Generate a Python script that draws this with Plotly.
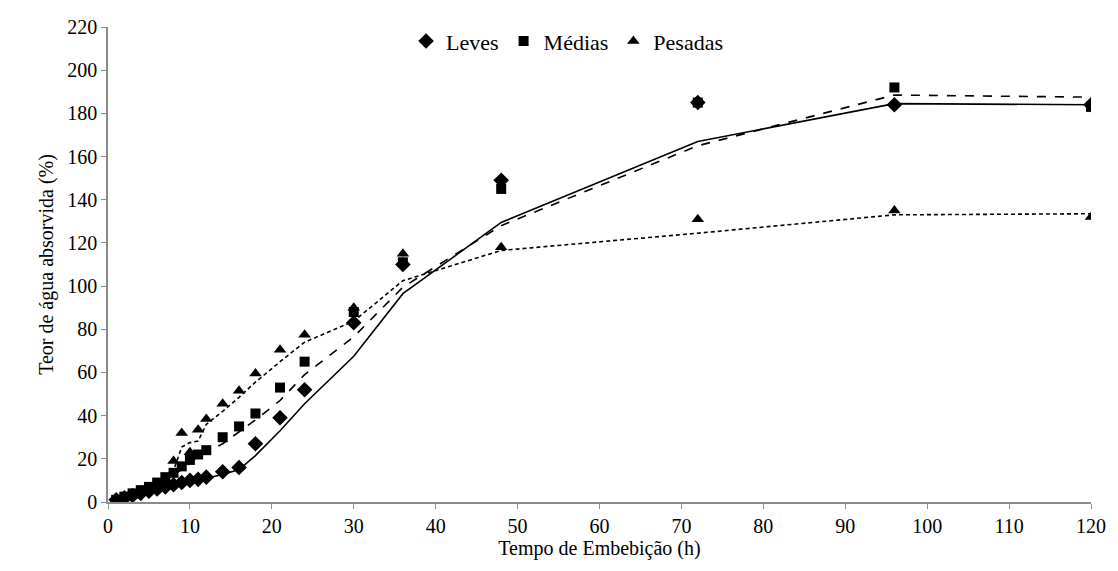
import plotly.graph_objects as go

# Tempo de embebição (h)
tempo = [1, 2, 3, 4, 5, 6, 7, 8, 9, 10, 11, 12, 14, 16, 18, 21, 24, 30, 36, 48, 72, 96, 120]

# Teor de água absorvida (%) por classe de sementes
leves = [1, 2, 3, 4, 5, 6, 7, 8, 9, 10, 10.5, 11.5, 14, 16, 27, 39, 52, 83, 110, 149, 185, 184, 184]
medias = [1, 2.5, 4, 5.5, 7, 9, 11.5, 13.5, 16.5, 19.5, 22, 24, 30, 35, 41, 53, 65, 88, 111, 145, 185, 192, 183]
pesadas = [1, 2, 3, 4.5, 5.5, 7, 10, 19, 32, 23, 33.5, 38.5, 45.5, 51.5, 59.5, 70.5, 77.5, 90, 115, 118, 131, 135, 132]

FONT = "Liberation Serif, Times New Roman, serif"


def media_movel(v, n=2):
    """Média móvel de n períodos (linha de tendência)."""
    return [sum(v[i - n + 1:i + 1]) / n for i in range(n - 1, len(v))]


series = [
    ("Leves", leves, "diamond", 12, "solid"),
    ("Médias", medias, "square", 10, "dash"),
    ("Pesadas", pesadas, "triangle-up", 11, "4px,3px"),
]

fig = go.Figure()

for nome, valores, simbolo, tam, traco in series:
    fig.add_trace(go.Scatter(
        x=tempo[1:], y=media_movel(valores), mode="lines",
        line=dict(color="black", width=1.6, dash=traco),
        showlegend=False, hoverinfo="skip",
    ))

for nome, valores, simbolo, tam, traco in series:
    fig.add_trace(go.Scatter(
        x=tempo, y=valores, mode="markers", name=nome,
        marker=dict(symbol=simbolo, size=tam, color="black"),
    ))

eixo = dict(
    showline=True, linecolor="#8c8c8c", linewidth=1.5,
    ticks="outside", tickcolor="#8c8c8c", ticklen=5, tickwidth=1,
    showgrid=False, zeroline=False,
    tickfont=dict(family=FONT, size=20, color="black"),
)

fig.update_layout(
    width=1118, height=571,
    margin=dict(l=108, r=16, t=27, b=69),
    paper_bgcolor="white", plot_bgcolor="white",
    font=dict(family=FONT, size=20, color="black"),
    xaxis=dict(range=[0, 120], dtick=10,
               title=dict(text="Tempo de Embebição (h)", standoff=2,
                          font=dict(family=FONT, size=20)), **eixo),
    yaxis=dict(range=[0, 220], dtick=20,
               title=dict(text="Teor de água absorvida (%)", standoff=8,
                          font=dict(family=FONT, size=20)), **eixo),
    legend=dict(orientation="h", x=0.467, xanchor="center", y=0.97, yanchor="middle",
                font=dict(family=FONT, size=22), bgcolor="rgba(0,0,0,0)",
                itemwidth=30, tracegroupgap=0),
)

fig.write_html("out.html")
